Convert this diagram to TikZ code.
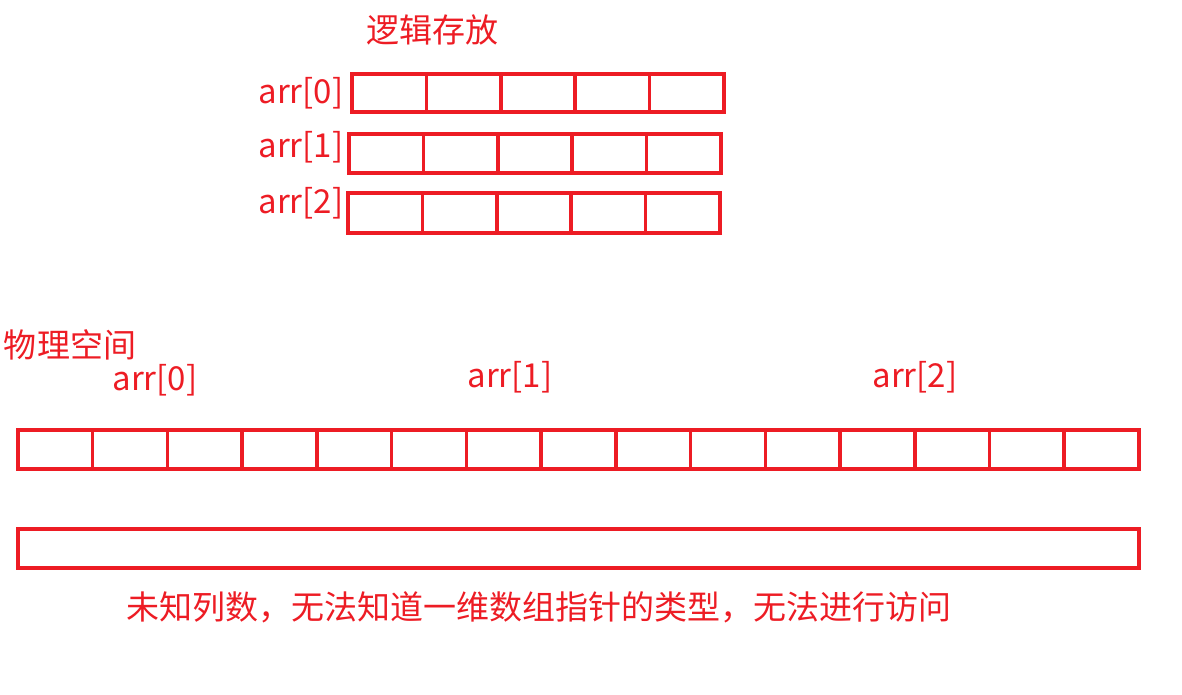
\documentclass[tikz,border=0pt]{standalone}
\usepackage{fontspec}
\setmainfont{Noto Sans CJK SC}
\definecolor{rd}{RGB}{237,28,36}
\begin{document}
\begin{tikzpicture}[x=1pt,y=-1pt,
  cell/.style={draw=rd,line width=3.5pt},
  lbl/.style={text=rd,font=\fontsize{33}{36}\selectfont,inner sep=0pt}]
\useasboundingbox (0,0) rectangle (1182,694);
\node[lbl] (t1) at (432,30) {逻辑存放};
\node[lbl] (a0) at (301,93) {arr[0]};
\node[lbl] (a1) at (301,147) {arr[1]};
\node[lbl] (a2) at (301,203) {arr[2]};
\foreach \i in {0,...,4} {
  \draw[cell] ({352+74.4*\i},74) rectangle ({352+74.4*(\i+1)},112);
  \draw[cell] ({349+74.4*\i},134) rectangle ({349+74.4*(\i+1)},173);
  \draw[cell] ({348+74.4*\i},193) rectangle ({348+74.4*(\i+1)},233);
}
\node[lbl] (t2) at (70,345) {物理空间};
\node[lbl] (b0) at (155,380) {arr[0]};
\node[lbl] (b1) at (510,377) {arr[1]};
\node[lbl] (b2) at (915,377) {arr[2]};
\foreach \i in {0,...,14} {
  \draw[cell] ({18+74.73*\i},430) rectangle ({18+74.73*(\i+1)},469);
}
\draw[cell] (18,529) rectangle (1139,568);
\node[lbl] (t3) at (539,607) {未知列数，无法知道一维数组指针的类型，无法进行访问};
\end{tikzpicture}
\end{document}
